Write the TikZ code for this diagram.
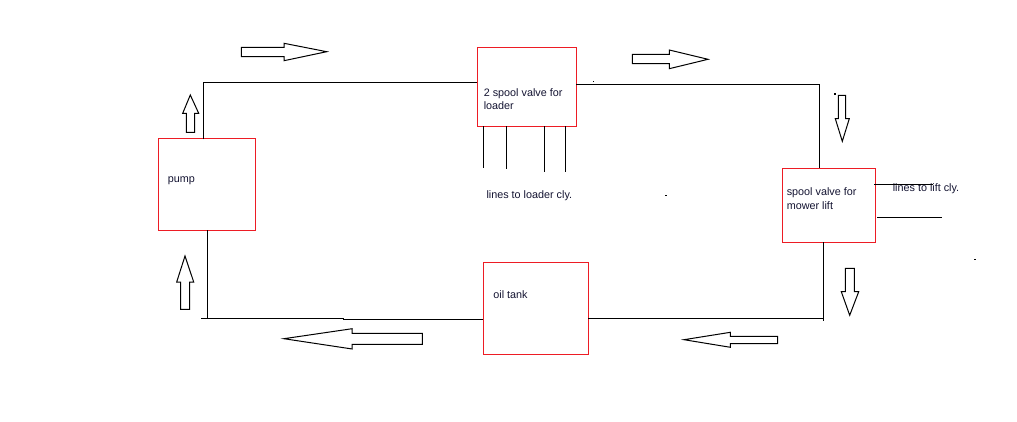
\documentclass[tikz,border=0pt]{standalone}
\usepackage{fontspec}
\setmainfont{Liberation Sans}
\definecolor{boxred}{RGB}{237,28,36}
\definecolor{txt}{RGB}{20,20,50}
\begin{document}
\begin{tikzpicture}[x=1pt,y=-1pt,line width=1pt,
  box/.style={draw=boxred,line width=1pt,inner sep=0pt,fill=none},
  lbl/.style={anchor=base west,inner sep=0pt,text=txt,align=left,
    font=\fontsize{10.8}{13.5}\selectfont},
  blockarrow/.style={draw=black,line width=1pt,line join=miter},
  pipe/.style={draw=black,line width=1pt},
  speck/.style={fill=black,draw=none}]
\useasboundingbox[fill=white] (0,0) rectangle (1017,422);

% boxes
\node[box,minimum width=97pt,minimum height=91pt] (pump) at (206.5,184.5) {};
\node[box,minimum width=99pt,minimum height=79pt] (valve) at (526.5,86.8) {};
\node[box,minimum width=93pt,minimum height=74pt] (mower) at (828.8,205.3) {};
\node[box,minimum width=105pt,minimum height=92pt] (tank) at (535.5,308.3) {};

% labels (base anchor of a two-line label is its last line)
\node[lbl] (valvelbl) at (483.3,109.9) {2 spool valve for\\loader};
\node[lbl] (pumplbl) at (167.3,182.6) {pump};
\node[lbl] (loaderlbl) at (486,198.6) {lines to loader cly.};
\node[lbl] (mowerlbl) at (786.3,209.5) {spool valve for\\mower lift};
\node[lbl] (liftlbl) at (892.3,191.8) {lines to lift cly.};
\node[lbl] (tanklbl) at (492.9,298.9) {oil tank};

% named pipe points
\coordinate (p1) at (203.3,139.3);
\coordinate (p2) at (477,82.7);
\coordinate (p3) at (576,85);
\coordinate (p4) at (819.3,168.3);
\coordinate (p5) at (823.5,242.3);
\coordinate (p6) at (823.5,321);
\coordinate (p7) at (588,318.3);
\coordinate (p8) at (483,319.3);
\coordinate (p9) at (343,319.3);
\coordinate (p10) at (343,318.3);
\coordinate (p11) at (201,318.3);
\coordinate (p12) at (207.7,230.3);
\coordinate (p13) at (207.7,318.3);

% pipes
\draw[pipe] (p1) |- (p2);
\draw[pipe] (p3) -| (p4);
\draw[pipe] (p5) -- (p6);
\draw[pipe] (p7) -- (p7 -| p6);
\draw[pipe] (p8) -- (p9) -- (p10) -- (p11);
\draw[pipe] (p12) -- (p13);

% lines to loader cylinders
\foreach \xx/\yy in {483.3/168.3,506.7/169.3,544.7/171.7,565.3/171.7}
  \draw[pipe] (\xx,126.3) -- (\xx,\yy);
% lines to lift cylinder
\draw[pipe] (874,184.3) -- (933.3,184.3);
\draw[pipe] (877,217.3) -- (941.7,217.3);

% block arrows
\draw[blockarrow] (241.3,47.3)--(284,47.3)--(284,43.3)--(326.7,51.7)--(284,60.7)--(284,56.7)--(241.3,56.7)--cycle;
\draw[blockarrow] (632.3,54.3)--(669.3,54.3)--(669.3,50)--(708,59.3)--(669.3,68.7)--(669.3,63.7)--(632.3,63.7)--cycle;
\draw[blockarrow] (838.3,95.3)--(845.7,95.3)--(845.7,118.7)--(849.3,118.7)--(842.3,141.3)--(835.3,118.7)--(838.3,118.7)--cycle;
\draw[blockarrow] (845.3,268.3)--(854.3,268.3)--(854.3,291.7)--(858.7,291.7)--(849.7,315.3)--(841.3,291.7)--(845.3,291.7)--cycle;
\draw[blockarrow] (186.3,132.3)--(194.7,132.3)--(194.7,113.3)--(198.7,113.3)--(190.3,95)--(182.7,113.3)--(186.3,113.3)--cycle;
\draw[blockarrow] (180.7,309.3)--(189.7,309.3)--(189.7,282)--(193.7,282)--(185,256)--(176.7,282)--(180.7,282)--cycle;
\draw[blockarrow] (422.3,333.3)--(352.2,333.3)--(352.2,328.7)--(283.9,338.7)--(352.2,349)--(352.2,344.3)--(422.3,344.3)--cycle;
\draw[blockarrow] (777.7,336.3)--(730.4,336.3)--(730.4,332.3)--(684,339.7)--(730.4,347.3)--(730.4,343.7)--(777.7,343.7)--cycle;

% stray specks
\fill[speck] (592.5,81.5) rectangle (593.5,82.5);
\fill[speck] (664.5,195.5) rectangle (666.5,196.5);
\fill[speck] (974,258.8) rectangle (976,259.8);
\fill[speck] (833.5,93.5) rectangle (835.5,95.5);
\end{tikzpicture}
\end{document}
